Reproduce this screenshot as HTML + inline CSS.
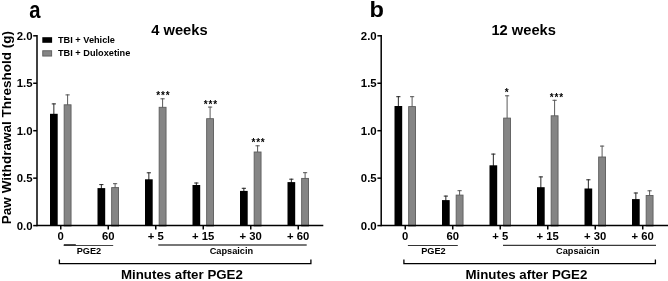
<!DOCTYPE html>
<html><head><meta charset="utf-8"><title>Paw Withdrawal Threshold</title>
<style>html,body{margin:0;padding:0;background:#fff}svg{display:block}svg text{font-family:"Liberation Sans",sans-serif}</style>
</head><body>
<svg width="668" height="281" viewBox="0 0 668 281" fill="#000">
<rect width="668" height="281" fill="#fff"/>
<line x1="53.85" y1="103.40" x2="53.85" y2="114.80" stroke="#262626" stroke-width="1"/>
<line x1="51.75" y1="103.90" x2="55.95" y2="103.90" stroke="#262626" stroke-width="1"/>
<rect x="50.00" y="113.80" width="7.7" height="111.80" fill="#000"/>
<line x1="67.60" y1="94.40" x2="67.60" y2="105.40" stroke="#5a5a5a" stroke-width="1"/>
<line x1="65.50" y1="94.90" x2="69.70" y2="94.90" stroke="#555" stroke-width="1"/>
<rect x="64.15" y="104.80" width="6.9" height="121.20" fill="#858585" stroke="#5c5c5c" stroke-width="0.9"/>
<line x1="101.35" y1="184.10" x2="101.35" y2="189.10" stroke="#262626" stroke-width="1"/>
<line x1="99.25" y1="184.60" x2="103.45" y2="184.60" stroke="#262626" stroke-width="1"/>
<rect x="97.50" y="188.10" width="7.7" height="37.50" fill="#000"/>
<line x1="115.10" y1="183.20" x2="115.10" y2="188.20" stroke="#5a5a5a" stroke-width="1"/>
<line x1="113.00" y1="183.70" x2="117.20" y2="183.70" stroke="#555" stroke-width="1"/>
<rect x="111.65" y="187.60" width="6.9" height="38.40" fill="#858585" stroke="#5c5c5c" stroke-width="0.9"/>
<line x1="148.85" y1="172.30" x2="148.85" y2="180.30" stroke="#262626" stroke-width="1"/>
<line x1="146.75" y1="172.80" x2="150.95" y2="172.80" stroke="#262626" stroke-width="1"/>
<rect x="145.00" y="179.30" width="7.7" height="46.30" fill="#000"/>
<line x1="162.60" y1="98.30" x2="162.60" y2="107.90" stroke="#5a5a5a" stroke-width="1"/>
<line x1="160.50" y1="98.80" x2="164.70" y2="98.80" stroke="#555" stroke-width="1"/>
<rect x="159.15" y="107.30" width="6.9" height="118.70" fill="#858585" stroke="#5c5c5c" stroke-width="0.9"/>
<line x1="196.35" y1="182.50" x2="196.35" y2="186.00" stroke="#262626" stroke-width="1"/>
<line x1="194.25" y1="183.00" x2="198.45" y2="183.00" stroke="#262626" stroke-width="1"/>
<rect x="192.50" y="185.00" width="7.7" height="40.60" fill="#000"/>
<line x1="210.10" y1="106.60" x2="210.10" y2="119.30" stroke="#5a5a5a" stroke-width="1"/>
<line x1="208.00" y1="107.10" x2="212.20" y2="107.10" stroke="#555" stroke-width="1"/>
<rect x="206.65" y="118.70" width="6.9" height="107.30" fill="#858585" stroke="#5c5c5c" stroke-width="0.9"/>
<line x1="243.85" y1="187.80" x2="243.85" y2="191.90" stroke="#262626" stroke-width="1"/>
<line x1="241.75" y1="188.30" x2="245.95" y2="188.30" stroke="#262626" stroke-width="1"/>
<rect x="240.00" y="190.90" width="7.7" height="34.70" fill="#000"/>
<line x1="257.60" y1="145.30" x2="257.60" y2="152.60" stroke="#5a5a5a" stroke-width="1"/>
<line x1="255.50" y1="145.80" x2="259.70" y2="145.80" stroke="#555" stroke-width="1"/>
<rect x="254.15" y="152.00" width="6.9" height="74.00" fill="#858585" stroke="#5c5c5c" stroke-width="0.9"/>
<line x1="291.35" y1="178.70" x2="291.35" y2="183.10" stroke="#262626" stroke-width="1"/>
<line x1="289.25" y1="179.20" x2="293.45" y2="179.20" stroke="#262626" stroke-width="1"/>
<rect x="287.50" y="182.10" width="7.7" height="43.50" fill="#000"/>
<line x1="305.10" y1="172.20" x2="305.10" y2="179.00" stroke="#5a5a5a" stroke-width="1"/>
<line x1="303.00" y1="172.70" x2="307.20" y2="172.70" stroke="#555" stroke-width="1"/>
<rect x="301.65" y="178.40" width="6.9" height="47.60" fill="#858585" stroke="#5c5c5c" stroke-width="0.9"/>
<line x1="37.00" y1="35.05" x2="37.00" y2="226.35" stroke="#000" stroke-width="1.5"/>
<line x1="37.00" y1="225.60" x2="323.30" y2="225.60" stroke="#000" stroke-width="1.5"/>
<line x1="33.20" y1="225.60" x2="37.00" y2="225.60" stroke="#000" stroke-width="1.5"/>
<text x="32.50" y="229.60" font-size="11.4" font-weight="bold" text-anchor="end">0.0</text>
<line x1="33.20" y1="178.15" x2="37.00" y2="178.15" stroke="#000" stroke-width="1.5"/>
<text x="32.50" y="182.15" font-size="11.4" font-weight="bold" text-anchor="end">0.5</text>
<line x1="33.20" y1="130.70" x2="37.00" y2="130.70" stroke="#000" stroke-width="1.5"/>
<text x="32.50" y="134.70" font-size="11.4" font-weight="bold" text-anchor="end">1.0</text>
<line x1="33.20" y1="83.25" x2="37.00" y2="83.25" stroke="#000" stroke-width="1.5"/>
<text x="32.50" y="87.25" font-size="11.4" font-weight="bold" text-anchor="end">1.5</text>
<line x1="33.20" y1="35.80" x2="37.00" y2="35.80" stroke="#000" stroke-width="1.5"/>
<text x="32.50" y="39.80" font-size="11.4" font-weight="bold" text-anchor="end">2.0</text>
<line x1="60.75" y1="225.60" x2="60.75" y2="229.40" stroke="#000" stroke-width="1.5"/>
<text x="60.75" y="240.1" font-size="11.3" font-weight="bold" text-anchor="middle">0</text>
<line x1="108.25" y1="225.60" x2="108.25" y2="229.40" stroke="#000" stroke-width="1.5"/>
<text x="108.25" y="240.1" font-size="11.3" font-weight="bold" text-anchor="middle">60</text>
<line x1="155.75" y1="225.60" x2="155.75" y2="229.40" stroke="#000" stroke-width="1.5"/>
<text x="155.75" y="240.1" font-size="11.3" font-weight="bold" text-anchor="middle">+ 5</text>
<line x1="203.25" y1="225.60" x2="203.25" y2="229.40" stroke="#000" stroke-width="1.5"/>
<text x="203.25" y="240.1" font-size="11.3" font-weight="bold" text-anchor="middle">+ 15</text>
<line x1="250.75" y1="225.60" x2="250.75" y2="229.40" stroke="#000" stroke-width="1.5"/>
<text x="250.75" y="240.1" font-size="11.3" font-weight="bold" text-anchor="middle">+ 30</text>
<line x1="298.25" y1="225.60" x2="298.25" y2="229.40" stroke="#000" stroke-width="1.5"/>
<text x="298.25" y="240.1" font-size="11.3" font-weight="bold" text-anchor="middle">+ 60</text>
<line x1="63.8" y1="245.5" x2="113.2" y2="245.5" stroke="#444" stroke-width="1"/>
<rect x="63.8" y="244.1" width="12" height="1.9" fill="#333"/>
<text x="88.90" y="254.3" font-size="9.2" font-weight="bold" text-anchor="middle">PGE2</text>
<line x1="158.25" y1="245.0" x2="306.70" y2="245.0" stroke="#777" stroke-width="1.9"/>
<text x="231.40" y="254.3" font-size="9.2" font-weight="bold" text-anchor="middle">Capsaicin</text>
<path d="M59.40 259.5 V263.6 H310.90 V259.5" fill="none" stroke="#000" stroke-width="1.3"/>
<text x="181.90" y="278.8" font-size="13.3" font-weight="bold" text-anchor="middle">Minutes after PGE2</text>
<text x="179.40" y="34.9" font-size="14.7" font-weight="bold" text-anchor="middle">4 weeks</text>
<text x="163.30" y="98.90" font-size="10" font-weight="bold" letter-spacing="0.8" text-anchor="middle">***</text>
<text x="210.90" y="108.20" font-size="10" font-weight="bold" letter-spacing="0.8" text-anchor="middle">***</text>
<text x="258.50" y="146.00" font-size="10" font-weight="bold" letter-spacing="0.8" text-anchor="middle">***</text>
<line x1="398.35" y1="96.20" x2="398.35" y2="107.00" stroke="#262626" stroke-width="1"/>
<line x1="396.25" y1="96.70" x2="400.45" y2="96.70" stroke="#262626" stroke-width="1"/>
<rect x="394.50" y="106.00" width="7.7" height="119.60" fill="#000"/>
<line x1="412.10" y1="96.20" x2="412.10" y2="107.20" stroke="#5a5a5a" stroke-width="1"/>
<line x1="410.00" y1="96.70" x2="414.20" y2="96.70" stroke="#555" stroke-width="1"/>
<rect x="408.65" y="106.60" width="6.9" height="119.40" fill="#858585" stroke="#5c5c5c" stroke-width="0.9"/>
<line x1="445.85" y1="195.60" x2="445.85" y2="201.10" stroke="#262626" stroke-width="1"/>
<line x1="443.75" y1="196.10" x2="447.95" y2="196.10" stroke="#262626" stroke-width="1"/>
<rect x="442.00" y="200.10" width="7.7" height="25.50" fill="#000"/>
<line x1="459.60" y1="190.20" x2="459.60" y2="195.70" stroke="#5a5a5a" stroke-width="1"/>
<line x1="457.50" y1="190.70" x2="461.70" y2="190.70" stroke="#555" stroke-width="1"/>
<rect x="456.15" y="195.10" width="6.9" height="30.90" fill="#858585" stroke="#5c5c5c" stroke-width="0.9"/>
<line x1="493.35" y1="153.60" x2="493.35" y2="166.30" stroke="#262626" stroke-width="1"/>
<line x1="491.25" y1="154.10" x2="495.45" y2="154.10" stroke="#262626" stroke-width="1"/>
<rect x="489.50" y="165.30" width="7.7" height="60.30" fill="#000"/>
<line x1="507.10" y1="95.30" x2="507.10" y2="118.70" stroke="#5a5a5a" stroke-width="1"/>
<line x1="505.00" y1="95.80" x2="509.20" y2="95.80" stroke="#555" stroke-width="1"/>
<rect x="503.65" y="118.10" width="6.9" height="107.90" fill="#858585" stroke="#5c5c5c" stroke-width="0.9"/>
<line x1="540.85" y1="176.40" x2="540.85" y2="188.20" stroke="#262626" stroke-width="1"/>
<line x1="538.75" y1="176.90" x2="542.95" y2="176.90" stroke="#262626" stroke-width="1"/>
<rect x="537.00" y="187.20" width="7.7" height="38.40" fill="#000"/>
<line x1="554.60" y1="99.80" x2="554.60" y2="116.40" stroke="#5a5a5a" stroke-width="1"/>
<line x1="552.50" y1="100.30" x2="556.70" y2="100.30" stroke="#555" stroke-width="1"/>
<rect x="551.15" y="115.80" width="6.9" height="110.20" fill="#858585" stroke="#5c5c5c" stroke-width="0.9"/>
<line x1="588.35" y1="179.30" x2="588.35" y2="189.50" stroke="#262626" stroke-width="1"/>
<line x1="586.25" y1="179.80" x2="590.45" y2="179.80" stroke="#262626" stroke-width="1"/>
<rect x="584.50" y="188.50" width="7.7" height="37.10" fill="#000"/>
<line x1="602.10" y1="145.60" x2="602.10" y2="157.60" stroke="#5a5a5a" stroke-width="1"/>
<line x1="600.00" y1="146.10" x2="604.20" y2="146.10" stroke="#555" stroke-width="1"/>
<rect x="598.65" y="157.00" width="6.9" height="69.00" fill="#858585" stroke="#5c5c5c" stroke-width="0.9"/>
<line x1="635.85" y1="192.50" x2="635.85" y2="200.10" stroke="#262626" stroke-width="1"/>
<line x1="633.75" y1="193.00" x2="637.95" y2="193.00" stroke="#262626" stroke-width="1"/>
<rect x="632.00" y="199.10" width="7.7" height="26.50" fill="#000"/>
<line x1="649.60" y1="190.30" x2="649.60" y2="196.10" stroke="#5a5a5a" stroke-width="1"/>
<line x1="647.50" y1="190.80" x2="651.70" y2="190.80" stroke="#555" stroke-width="1"/>
<rect x="646.15" y="195.50" width="6.9" height="30.50" fill="#858585" stroke="#5c5c5c" stroke-width="0.9"/>
<line x1="381.20" y1="35.05" x2="381.20" y2="226.35" stroke="#000" stroke-width="1.5"/>
<line x1="381.20" y1="225.60" x2="668.00" y2="225.60" stroke="#000" stroke-width="1.5"/>
<line x1="377.40" y1="225.60" x2="381.20" y2="225.60" stroke="#000" stroke-width="1.5"/>
<text x="376.70" y="229.60" font-size="11.4" font-weight="bold" text-anchor="end">0.0</text>
<line x1="377.40" y1="178.15" x2="381.20" y2="178.15" stroke="#000" stroke-width="1.5"/>
<text x="376.70" y="182.15" font-size="11.4" font-weight="bold" text-anchor="end">0.5</text>
<line x1="377.40" y1="130.70" x2="381.20" y2="130.70" stroke="#000" stroke-width="1.5"/>
<text x="376.70" y="134.70" font-size="11.4" font-weight="bold" text-anchor="end">1.0</text>
<line x1="377.40" y1="83.25" x2="381.20" y2="83.25" stroke="#000" stroke-width="1.5"/>
<text x="376.70" y="87.25" font-size="11.4" font-weight="bold" text-anchor="end">1.5</text>
<line x1="377.40" y1="35.80" x2="381.20" y2="35.80" stroke="#000" stroke-width="1.5"/>
<text x="376.70" y="39.80" font-size="11.4" font-weight="bold" text-anchor="end">2.0</text>
<line x1="405.25" y1="225.60" x2="405.25" y2="229.40" stroke="#000" stroke-width="1.5"/>
<text x="405.25" y="240.1" font-size="11.3" font-weight="bold" text-anchor="middle">0</text>
<line x1="452.75" y1="225.60" x2="452.75" y2="229.40" stroke="#000" stroke-width="1.5"/>
<text x="452.75" y="240.1" font-size="11.3" font-weight="bold" text-anchor="middle">60</text>
<line x1="500.25" y1="225.60" x2="500.25" y2="229.40" stroke="#000" stroke-width="1.5"/>
<text x="500.25" y="240.1" font-size="11.3" font-weight="bold" text-anchor="middle">+ 5</text>
<line x1="547.75" y1="225.60" x2="547.75" y2="229.40" stroke="#000" stroke-width="1.5"/>
<text x="547.75" y="240.1" font-size="11.3" font-weight="bold" text-anchor="middle">+ 15</text>
<line x1="595.25" y1="225.60" x2="595.25" y2="229.40" stroke="#000" stroke-width="1.5"/>
<text x="595.25" y="240.1" font-size="11.3" font-weight="bold" text-anchor="middle">+ 30</text>
<line x1="642.75" y1="225.60" x2="642.75" y2="229.40" stroke="#000" stroke-width="1.5"/>
<text x="642.75" y="240.1" font-size="11.3" font-weight="bold" text-anchor="middle">+ 60</text>
<line x1="407.9" y1="245.45" x2="457.8" y2="245.45" stroke="#333" stroke-width="1.1"/>
<text x="433.40" y="254.3" font-size="9.2" font-weight="bold" text-anchor="middle">PGE2</text>
<line x1="503.00" y1="245.35" x2="656.00" y2="245.35" stroke="#3a3a3a" stroke-width="1.3"/>
<text x="577.80" y="254.3" font-size="9.2" font-weight="bold" text-anchor="middle">Capsaicin</text>
<path d="M403.90 259.5 V263.6 H655.40 V259.5" fill="none" stroke="#000" stroke-width="1.3"/>
<text x="526.40" y="278.8" font-size="13.3" font-weight="bold" text-anchor="middle">Minutes after PGE2</text>
<text x="523.70" y="34.9" font-size="14.7" font-weight="bold" text-anchor="middle">12 weeks</text>
<text x="507.20" y="95.80" font-size="10" font-weight="bold" letter-spacing="0.8" text-anchor="middle">*</text>
<text x="556.80" y="100.70" font-size="10" font-weight="bold" letter-spacing="0.8" text-anchor="middle">***</text>
<text transform="translate(29.3 17.9) scale(0.88 1)" font-size="23" font-weight="bold">a</text>
<text transform="translate(369.4 17.45) scale(1.05 1)" font-size="22.5" font-weight="bold">b</text>
<text transform="translate(10.6 30.9) rotate(-90)" font-size="13.55" font-weight="bold" text-anchor="end">Paw Withdrawal Threshold (g)</text>
<rect x="42.3" y="37.2" width="9.8" height="5.6" fill="#000"/>
<rect x="42.75" y="50.75" width="8.9" height="5.3" fill="#858585" stroke="#5c5c5c" stroke-width="0.9"/>
<text x="58" y="43.2" font-size="9.2" font-weight="bold">TBI + Vehicle</text>
<text x="58" y="56.3" font-size="9.2" font-weight="bold">TBI + Duloxetine</text>
</svg>
</body></html>
